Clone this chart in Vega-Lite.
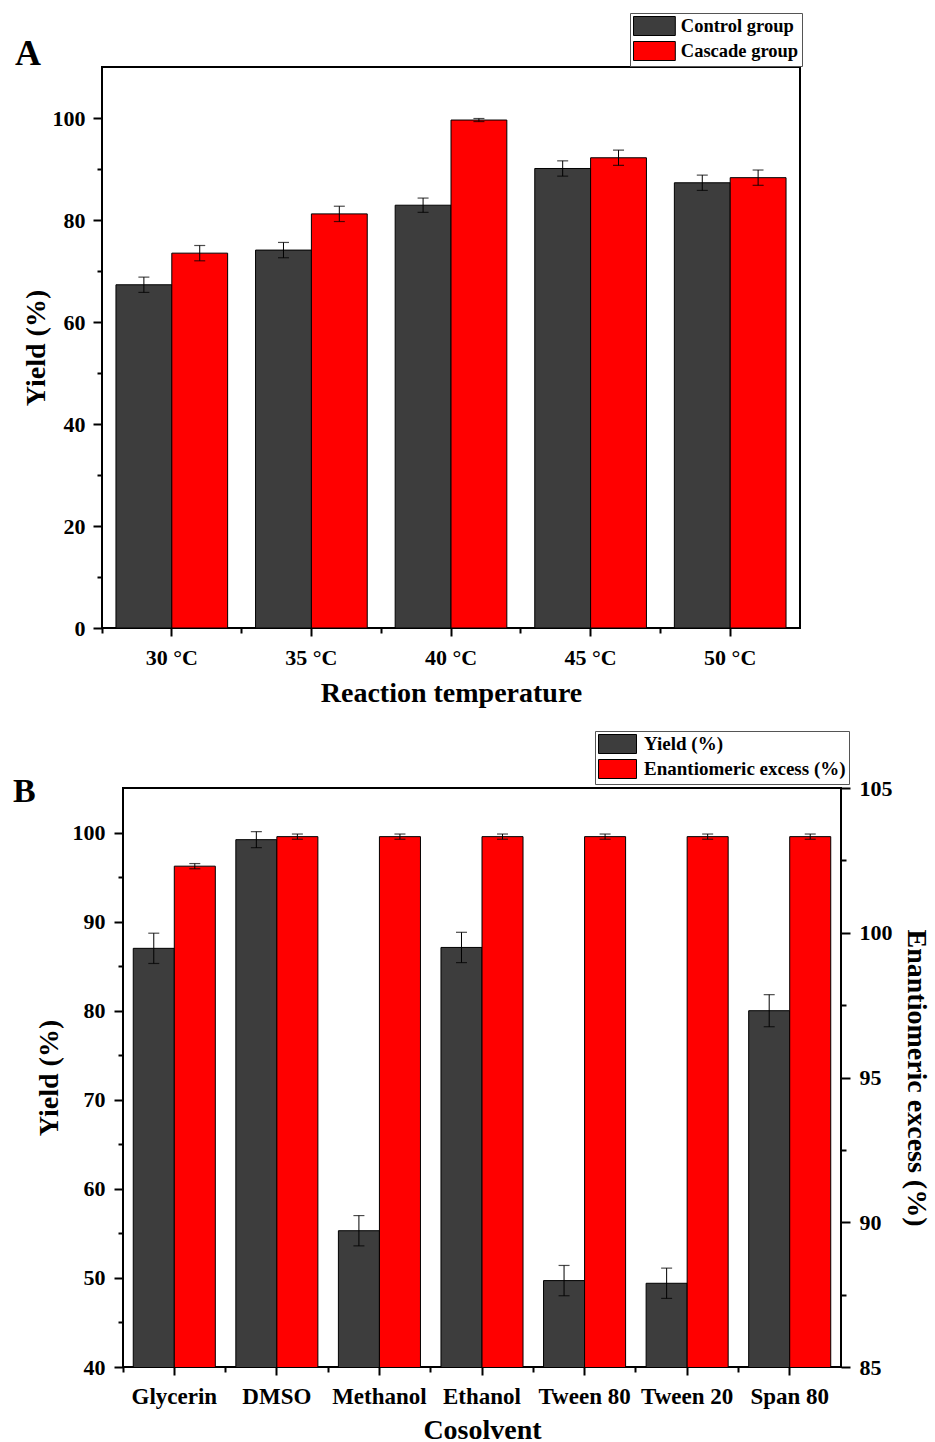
{
  "$schema": "https://vega.github.io/schema/vega-lite/v6.json",
  "background": "white",
  "padding": {"left": 12, "top": 11, "right": 0, "bottom": 0},
  "bounds": "flush",
  "spacing": 160,
  "resolve": {"scale": {"color": "independent", "xOffset": "independent"}, "legend": {"color": "independent"}},
  "config": {
    "font": "Liberation Serif",
    "view": {"stroke": "black", "strokeWidth": 2},
    "axis": {
      "labelFont": "Liberation Serif", "labelFontWeight": "bold", "labelColor": "black",
      "titleFont": "Liberation Serif", "titleFontWeight": "bold", "titleColor": "black",
      "tickColor": "black", "tickWidth": 2, "domain": false, "grid": false
    },
    "title": {"font": "Liberation Serif", "fontWeight": "bold", "color": "black"}
  },
  "vconcat": [
    {
      "width": 698,
      "height": 561,
      "title": {"text": "A", "anchor": "start", "frame": "group", "fontSize": 36, "dx": -87, "dy": 64},
      "data": {"values": [
        {"temperature": "30 °C", "group": "Control group", "yield": 67.3, "lo": 65.8, "hi": 68.8},
        {"temperature": "30 °C", "group": "Cascade group", "yield": 73.5, "lo": 72.0, "hi": 75.0},
        {"temperature": "35 °C", "group": "Control group", "yield": 74.1, "lo": 72.6, "hi": 75.6},
        {"temperature": "35 °C", "group": "Cascade group", "yield": 81.2, "lo": 79.7, "hi": 82.7},
        {"temperature": "40 °C", "group": "Control group", "yield": 82.9, "lo": 81.5, "hi": 84.3},
        {"temperature": "40 °C", "group": "Cascade group", "yield": 99.6, "lo": 99.3, "hi": 99.9},
        {"temperature": "45 °C", "group": "Control group", "yield": 90.1, "lo": 88.6, "hi": 91.6},
        {"temperature": "45 °C", "group": "Cascade group", "yield": 92.2, "lo": 90.7, "hi": 93.7},
        {"temperature": "50 °C", "group": "Control group", "yield": 87.3, "lo": 85.8, "hi": 88.8},
        {"temperature": "50 °C", "group": "Cascade group", "yield": 88.3, "lo": 86.8, "hi": 89.8}
      ]},
      "layer": [
        {
          "mark": {"type": "bar", "stroke": "black", "strokeWidth": 1, "clip": true},
          "encoding": {
            "x": {"field": "temperature", "type": "nominal", "sort": null,
                  "scale": {"paddingInner": 0.2, "paddingOuter": 0.1},
                  "axis": {"orient": "bottom", "title": "Reaction temperature", "titleFontSize": 28, "labelFontSize": 22, "labelAngle": 0, "tickSize": 8, "labelPadding": 11, "titlePadding": 11}},
            "xOffset": {"field": "group", "type": "nominal", "scale": {"domain": ["Control group", "Cascade group"]}},
            "y": {"field": "yield", "type": "quantitative", "title": "Yield (%)",
                  "scale": {"domain": [0, 110]},
                  "axis": {"titleFontSize": 28, "labelFontSize": 22,
                           "values": [0, 10, 20, 30, 40, 50, 60, 70, 80, 90, 100],
                           "labelExpr": "datum.value % 20 === 0 ? datum.label : ''",
                           "tickSize": {"condition": {"test": "datum.value % 20 === 0", "value": 9}, "value": 5},
                           "labelPadding": 8, "titlePadding": 2}},
            "color": {"field": "group", "type": "nominal",
                      "scale": {"domain": ["Control group", "Cascade group"], "range": ["#3d3d3d", "#ff0000"]},
                      "legend": {"orient": "none", "legendX": 528, "legendY": -54, "title": null,
                                 "symbolType": "M-2.2,-1H2.2V1H-2.2Z", "symbolSize": 361, "symbolOffset": 11.4,
                                 "symbolStrokeColor": "black", "symbolStrokeWidth": 1,
                                 "labelFont": "Liberation Serif", "labelFontWeight": "bold", "labelFontSize": 18.5,
                                 "labelColor": "black", "labelOffset": 16.4, "labelLimit": 300,
                                 "strokeColor": "#555", "fillColor": "white", "padding": 3, "rowPadding": 1}}
          }
        },
        {
          "mark": {"type": "rule", "color": "black", "strokeWidth": 1},
          "encoding": {
            "x": {"field": "temperature", "type": "nominal", "sort": null,
                  "axis": {"orient": "bottom", "title": null, "labels": false, "bandPosition": -0.125, "tickSize": 5}},
            "xOffset": {"field": "group", "type": "nominal", "scale": {"domain": ["Control group", "Cascade group"]}},
            "y": {"field": "lo", "type": "quantitative", "title": "Yield (%)"},
            "y2": {"field": "hi"}
          }
        },
        {
          "mark": {"type": "tick", "color": "black", "thickness": 1.2, "size": 11},
          "encoding": {
            "x": {"field": "temperature", "type": "nominal", "sort": null, "axis": null},
            "xOffset": {"field": "group", "type": "nominal", "scale": {"domain": ["Control group", "Cascade group"]}},
            "y": {"field": "lo", "type": "quantitative", "title": "Yield (%)"}
          }
        },
        {
          "mark": {"type": "tick", "color": "black", "thickness": 1.2, "size": 11},
          "encoding": {
            "x": {"field": "temperature", "type": "nominal", "sort": null, "axis": null},
            "xOffset": {"field": "group", "type": "nominal", "scale": {"domain": ["Control group", "Cascade group"]}},
            "y": {"field": "hi", "type": "quantitative", "title": "Yield (%)"}
          }
        }
      ],
      "resolve": {"axis": {"x": "independent"}}
    },
    {
      "bounds": "flush",
      "spacing": 20,
      "hconcat": [
        {
          "width": 1,
          "height": 579,
          "view": {"stroke": null},
          "data": {"values": [{"a": 1}]},
          "mark": {"type": "point", "opacity": 0}
        },
        {
          "width": 718,
          "height": 579,
          "title": {"text": "B", "anchor": "start", "frame": "group", "fontSize": 34, "dx": -110, "dy": 36},
          "data": {"values": [
            {"cosolvent": "Glycerin", "series": "Yield (%)", "value": 87.0, "lo": 85.3, "hi": 88.7},
            {"cosolvent": "Glycerin", "series": "Enantiomeric excess (%)", "value": 102.3, "lo": 102.21, "hi": 102.39},
            {"cosolvent": "DMSO", "series": "Yield (%)", "value": 99.2, "lo": 98.3, "hi": 100.1},
            {"cosolvent": "DMSO", "series": "Enantiomeric excess (%)", "value": 103.32, "lo": 103.23, "hi": 103.41},
            {"cosolvent": "Methanol", "series": "Yield (%)", "value": 55.3, "lo": 53.6, "hi": 57.0},
            {"cosolvent": "Methanol", "series": "Enantiomeric excess (%)", "value": 103.32, "lo": 103.23, "hi": 103.41},
            {"cosolvent": "Ethanol", "series": "Yield (%)", "value": 87.1, "lo": 85.4, "hi": 88.8},
            {"cosolvent": "Ethanol", "series": "Enantiomeric excess (%)", "value": 103.32, "lo": 103.23, "hi": 103.41},
            {"cosolvent": "Tween 80", "series": "Yield (%)", "value": 49.7, "lo": 48.0, "hi": 51.4},
            {"cosolvent": "Tween 80", "series": "Enantiomeric excess (%)", "value": 103.32, "lo": 103.23, "hi": 103.41},
            {"cosolvent": "Tween 20", "series": "Yield (%)", "value": 49.4, "lo": 47.7, "hi": 51.1},
            {"cosolvent": "Tween 20", "series": "Enantiomeric excess (%)", "value": 103.32, "lo": 103.23, "hi": 103.41},
            {"cosolvent": "Span 80", "series": "Yield (%)", "value": 80.0, "lo": 78.2, "hi": 81.8},
            {"cosolvent": "Span 80", "series": "Enantiomeric excess (%)", "value": 103.32, "lo": 103.23, "hi": 103.41}
          ]},
          "layer": [
            {
              "transform": [{"filter": "datum.series === 'Yield (%)'"}],
              "mark": {"type": "bar", "stroke": "black", "strokeWidth": 1, "clip": true},
              "encoding": {
                "x": {"field": "cosolvent", "type": "nominal", "sort": null,
                      "scale": {"paddingInner": 0.2, "paddingOuter": 0.1},
                      "axis": {"orient": "bottom", "title": "Cosolvent", "titleFontSize": 28, "labelFontSize": 23, "labelAngle": 0, "tickSize": 8, "labelPadding": 10, "titlePadding": 8}},
                "xOffset": {"field": "series", "type": "nominal", "scale": {"domain": ["Yield (%)", "Enantiomeric excess (%)"]}},
                "y": {"field": "value", "type": "quantitative", "title": "Yield (%)",
                      "scale": {"domain": [40, 105]},
                      "axis": {"orient": "left", "titleFontSize": 28, "labelFontSize": 22,
                               "values": [40, 45, 50, 55, 60, 65, 70, 75, 80, 85, 90, 95, 100],
                               "labelExpr": "datum.value % 10 === 0 ? datum.label : ''",
                               "tickSize": {"condition": {"test": "datum.value % 10 === 0", "value": 9}, "value": 5},
                               "labelPadding": 9, "titlePadding": 9}},
                "color": {"field": "series", "type": "nominal",
                          "scale": {"domain": ["Yield (%)", "Enantiomeric excess (%)"], "range": ["#3d3d3d", "#ff0000"]},
                          "legend": {"orient": "none", "legendX": 493, "legendY": -57, "title": null,
                                     "symbolType": "M-2,-1H2V1H-2Z", "symbolSize": 361, "symbolOffset": 9.5,
                                     "symbolStrokeColor": "black", "symbolStrokeWidth": 1,
                                     "labelFont": "Liberation Serif", "labelFontWeight": "bold", "labelFontSize": 19,
                                     "labelColor": "black", "labelOffset": 16.5, "labelLimit": 400,
                                     "strokeColor": "#555", "fillColor": "white", "padding": 3, "rowPadding": 1}}
              }
            },
            {
              "transform": [{"filter": "datum.series === 'Enantiomeric excess (%)'"}],
              "mark": {"type": "bar", "stroke": "black", "strokeWidth": 1, "clip": true},
              "encoding": {
                "x": {"field": "cosolvent", "type": "nominal", "sort": null, "axis": null},
                "xOffset": {"field": "series", "type": "nominal", "scale": {"domain": ["Yield (%)", "Enantiomeric excess (%)"]}},
                "y": {"field": "value", "type": "quantitative", "title": "Enantiomeric excess (%)",
                      "scale": {"domain": [85, 105]},
                      "axis": {"orient": "right", "titleFontSize": 28, "labelFontSize": 22,
                               "values": [85, 87.5, 90, 92.5, 95, 97.5, 100, 102.5, 105],
                               "labelExpr": "datum.value % 5 === 0 ? datum.label : ''",
                               "tickSize": {"condition": {"test": "datum.value % 5 === 0", "value": 9}, "value": 5},
                               "labelPadding": 9, "titlePadding": 9}},
                "color": {"field": "series", "type": "nominal",
                          "scale": {"domain": ["Yield (%)", "Enantiomeric excess (%)"], "range": ["#3d3d3d", "#ff0000"]},
                          "legend": {"orient": "none", "legendX": 493, "legendY": -57, "title": null,
                                     "symbolType": "M-2,-1H2V1H-2Z", "symbolSize": 361, "symbolOffset": 9.5,
                                     "symbolStrokeColor": "black", "symbolStrokeWidth": 1,
                                     "labelFont": "Liberation Serif", "labelFontWeight": "bold", "labelFontSize": 19,
                                     "labelColor": "black", "labelOffset": 16.5, "labelLimit": 400,
                                     "strokeColor": "#555", "fillColor": "white", "padding": 3, "rowPadding": 1}}
              }
            },
            {
              "transform": [{"filter": "datum.series === 'Yield (%)'"}],
              "mark": {"type": "rule", "color": "black", "strokeWidth": 1},
              "encoding": {
                "x": {"field": "cosolvent", "type": "nominal", "sort": null,
                      "axis": {"orient": "bottom", "title": null, "labels": false, "bandPosition": -0.125, "tickSize": 5}},
                "xOffset": {"field": "series", "type": "nominal", "scale": {"domain": ["Yield (%)", "Enantiomeric excess (%)"]}},
                "y": {"field": "lo", "type": "quantitative", "scale": {"domain": [40, 105]}, "axis": null},
                "y2": {"field": "hi"}
              }
            },
            {
              "transform": [{"filter": "datum.series === 'Yield (%)'"}],
              "mark": {"type": "tick", "color": "black", "thickness": 1.2, "size": 11},
              "encoding": {
                "x": {"field": "cosolvent", "type": "nominal", "sort": null, "axis": null},
                "xOffset": {"field": "series", "type": "nominal", "scale": {"domain": ["Yield (%)", "Enantiomeric excess (%)"]}},
                "y": {"field": "lo", "type": "quantitative", "scale": {"domain": [40, 105]}, "axis": null}
              }
            },
            {
              "transform": [{"filter": "datum.series === 'Yield (%)'"}],
              "mark": {"type": "tick", "color": "black", "thickness": 1.2, "size": 11},
              "encoding": {
                "x": {"field": "cosolvent", "type": "nominal", "sort": null, "axis": null},
                "xOffset": {"field": "series", "type": "nominal", "scale": {"domain": ["Yield (%)", "Enantiomeric excess (%)"]}},
                "y": {"field": "hi", "type": "quantitative", "scale": {"domain": [40, 105]}, "axis": null}
              }
            },
            {
              "transform": [{"filter": "datum.series === 'Enantiomeric excess (%)'"}],
              "mark": {"type": "rule", "color": "black", "strokeWidth": 1},
              "encoding": {
                "x": {"field": "cosolvent", "type": "nominal", "sort": null, "axis": null},
                "xOffset": {"field": "series", "type": "nominal", "scale": {"domain": ["Yield (%)", "Enantiomeric excess (%)"]}},
                "y": {"field": "lo", "type": "quantitative", "scale": {"domain": [85, 105]}, "axis": null},
                "y2": {"field": "hi"}
              }
            },
            {
              "transform": [{"filter": "datum.series === 'Enantiomeric excess (%)'"}],
              "mark": {"type": "tick", "color": "black", "thickness": 1.2, "size": 11},
              "encoding": {
                "x": {"field": "cosolvent", "type": "nominal", "sort": null, "axis": null},
                "xOffset": {"field": "series", "type": "nominal", "scale": {"domain": ["Yield (%)", "Enantiomeric excess (%)"]}},
                "y": {"field": "lo", "type": "quantitative", "scale": {"domain": [85, 105]}, "axis": null}
              }
            },
            {
              "transform": [{"filter": "datum.series === 'Enantiomeric excess (%)'"}],
              "mark": {"type": "tick", "color": "black", "thickness": 1.2, "size": 11},
              "encoding": {
                "x": {"field": "cosolvent", "type": "nominal", "sort": null, "axis": null},
                "xOffset": {"field": "series", "type": "nominal", "scale": {"domain": ["Yield (%)", "Enantiomeric excess (%)"]}},
                "y": {"field": "hi", "type": "quantitative", "scale": {"domain": [85, 105]}, "axis": null}
              }
            }
          ],
          "resolve": {"scale": {"y": "independent"}, "axis": {"x": "independent", "y": "independent"}}
        }
      ]
    }
  ]
}
